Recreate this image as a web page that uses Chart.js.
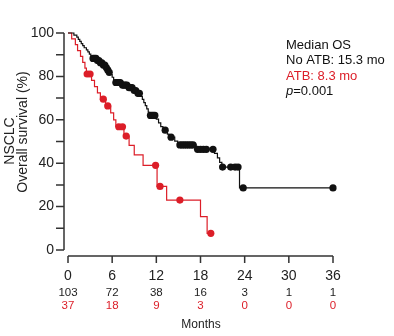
<!DOCTYPE html>
<html>
<head>
<meta charset="utf-8">
<script src="https://cdn.jsdelivr.net/npm/chart.js@4"></script>
<style>
  html, body { margin: 0; padding: 0; background: #fff; }
  #wrap { width: 394px; height: 336px; }
</style>
</head>
<body>
<div id="wrap"><canvas id="Chart" width="394" height="336"></canvas></div>
<script>
// No ATB (black) - event times and survival after each step
const blackTime = [0, 0.8, 1.2, 1.4, 1.6, 1.8, 2.0, 2.2, 2.5, 2.7, 2.9, 3.1, 3.3, 3.9, 4.3, 4.7, 5.1, 5.3, 5.5, 5.8, 6.0, 6.2, 6.3, 7.2, 8.1, 8.8, 9.3, 9.8, 10.1, 10.3, 10.5, 10.7, 10.9, 11.0, 12.0, 12.3, 12.6, 12.9, 13.5, 13.7, 14.5, 14.9, 17.4, 19.9, 20.3, 20.6, 20.9, 23.3, 36];
const blackSurv = [100, 99.0, 98.1, 97.1, 96.1, 95.1, 94.2, 93.2, 92.2, 91.3, 90.3, 89.3, 88.3, 87.3, 86.3, 85.2, 84.1, 83.0, 81.9, 80.8, 79.6, 78.4, 77.2, 76.0, 74.8, 73.5, 72.2, 70.8, 69.4, 67.9, 66.5, 65.0, 63.5, 62.0, 60.3, 58.6, 56.9, 55.2, 53.4, 52.0, 50.2, 48.4, 46.4, 44.5, 42.5, 40.4, 38.2, 28.6, 28.6];
const blackCensor = [3.4, 3.6, 3.8, 4.0, 4.2, 4.4, 4.6, 4.8, 5.0, 5.2, 5.4, 5.6, 6.5, 6.7, 6.9, 7.1, 7.4, 7.6, 7.8, 8.0, 8.3, 8.5, 8.7, 9.0, 9.2, 9.5, 9.7, 11.2, 11.4, 11.6, 11.8, 13.2, 14.0, 15.2, 15.5, 15.8, 16.1, 16.4, 16.7, 17.0, 17.6, 18.0, 18.4, 18.8, 19.7, 21.0, 22.1, 22.7, 23.1, 23.8, 36];

// ATB (red)
const redTime = [0, 0.5, 1.0, 1.3, 1.7, 2.0, 2.3, 2.5, 3.2, 3.6, 4.0, 4.4, 5.1, 5.8, 6.2, 6.5, 7.6, 8.3, 9.0, 10.2, 12.1, 13.4, 18.0, 18.9, 19.4];
const redSurv = [100, 97.3, 94.6, 91.9, 89.2, 86.5, 83.8, 81.1, 78.2, 75.3, 72.4, 69.5, 66.4, 63.2, 60.0, 56.8, 52.5, 48.2, 43.8, 39.0, 29.3, 23.0, 15.4, 7.7, 7.7];
const redCensor = [2.6, 3.0, 4.8, 5.4, 6.9, 7.4, 7.9, 11.9, 12.5, 15.2, 19.4];

const xTicks = [0, 6, 12, 18, 24, 30, 36];
const yTicks = [0, 20, 40, 60, 80, 100];
const yMinorTicks = [10, 30, 50, 70, 90];
const atRiskNoATB = [103, 72, 38, 16, 3, 1, 1];
const atRiskATB = [37, 18, 9, 3, 0, 0, 0];

const RED = '#dc1e28';
const BLACK = '#111';
const FONT = '"Liberation Sans", Arial, sans-serif';

function survAt(times, survs, t) {
  let s = survs[0];
  for (let i = 0; i < times.length; i++) { if (times[i] <= t) s = survs[i]; }
  return s;
}
function pts(times, survs) { return times.map((t, i) => ({x: t, y: survs[i]})); }
function censorPts(c, times, survs) { return c.map(t => ({x: t, y: survAt(times, survs, t)})); }

const kmPlugin = {
  id: 'kmAxes',
  beforeDatasetsDraw(chart) {
    const {ctx, scales: {x, y}} = chart;
    ctx.save();
    ctx.strokeStyle = '#333';
    ctx.lineWidth = 1.5;
    const ax = x.getPixelForValue(0) - 4;
    ctx.beginPath();
    ctx.moveTo(ax, y.getPixelForValue(100));
    ctx.lineTo(ax, y.getPixelForValue(0));
    yTicks.concat(yMinorTicks).forEach(v => {
      const py = y.getPixelForValue(v);
      ctx.moveTo(ax - 8, py); ctx.lineTo(ax, py);
    });
    const ay = y.getPixelForValue(0) + 6;
    ctx.moveTo(x.getPixelForValue(0), ay);
    ctx.lineTo(x.getPixelForValue(36), ay);
    xTicks.forEach(v => {
      const px = x.getPixelForValue(v);
      ctx.moveTo(px, ay); ctx.lineTo(px, ay + 7);
    });
    ctx.stroke();

    ctx.fillStyle = '#222';
    ctx.font = '14px ' + FONT;
    ctx.textAlign = 'right';
    ctx.textBaseline = 'middle';
    yTicks.forEach(v => ctx.fillText(String(v), ax - 10, y.getPixelForValue(v)));
    ctx.textAlign = 'center';
    xTicks.forEach(v => ctx.fillText(String(v), x.getPixelForValue(v), ay + 20));

    ctx.font = '11.5px ' + FONT;
    xTicks.forEach((v, i) => {
      ctx.fillStyle = '#222';
      ctx.fillText(String(atRiskNoATB[i]), x.getPixelForValue(v), ay + 37);
      ctx.fillStyle = RED;
      ctx.fillText(String(atRiskATB[i]), x.getPixelForValue(v), ay + 50);
    });
    ctx.fillStyle = '#222';
    ctx.font = '12px ' + FONT;
    ctx.fillText('Months', 201, 325);

    // y title
    ctx.font = '14px ' + FONT;
    ctx.save();
    ctx.translate(10, 141);
    ctx.rotate(-Math.PI / 2);
    ctx.fillText('NSCLC', 0, 0);
    ctx.restore();
    ctx.save();
    ctx.translate(23, 132);
    ctx.rotate(-Math.PI / 2);
    ctx.fillText('Overall survival (%)', 0, 0);
    ctx.restore();

    // legend text
    ctx.font = '13px ' + FONT;
    ctx.textAlign = 'left';
    ctx.fillStyle = '#111';
    ctx.fillText('Median OS', 286, 45);
    ctx.fillText('No ATB: 15.3 mo', 286, 60);
    ctx.fillStyle = RED;
    ctx.fillText('ATB: 8.3 mo', 286, 76);
    ctx.fillStyle = '#111';
    ctx.font = 'italic 13px ' + FONT;
    ctx.fillText('p', 286, 91);
    const pw = ctx.measureText('p').width;
    ctx.font = '13px ' + FONT;
    ctx.fillText('=0.001', 286 + pw, 91);
    ctx.restore();
  }
};

const ctx = document.getElementById('Chart').getContext('2d');
const myChart = new Chart(ctx, {
  type: 'scatter',
  data: {
    datasets: [
      {
        type: 'line', data: pts(blackTime, blackSurv), stepped: 'before',
        borderColor: BLACK, borderWidth: 1.2, pointRadius: 0, fill: false, clip: false
      },
      {
        type: 'line', data: pts(redTime, redSurv), stepped: 'before',
        borderColor: RED, borderWidth: 1.2, pointRadius: 0, fill: false, clip: false
      },
      {
        data: censorPts(blackCensor, blackTime, blackSurv),
        backgroundColor: BLACK, borderColor: BLACK, pointRadius: 3.6, borderWidth: 0, clip: false
      },
      {
        data: censorPts(redCensor, redTime, redSurv),
        backgroundColor: RED, borderColor: RED, pointRadius: 3.6, borderWidth: 0, clip: false
      }
    ]
  },
  options: {
    responsive: false,
    animation: false,
    layout: { padding: { left: 68, right: 61, top: 33, bottom: 86 } },
    plugins: { legend: { display: false }, tooltip: { enabled: false } },
    scales: {
      x: { type: 'linear', min: 0, max: 36, display: false },
      y: { type: 'linear', min: 0, max: 100, display: false }
    }
  },
  plugins: [kmPlugin]
});
</script>
</body>
</html>
